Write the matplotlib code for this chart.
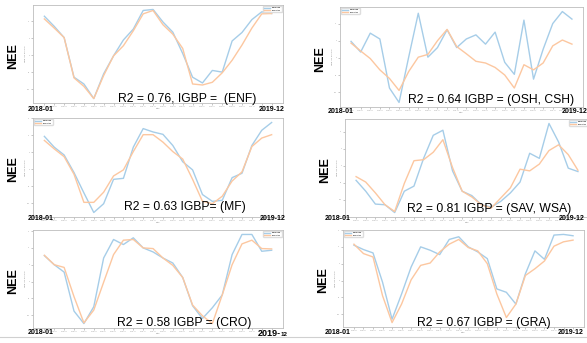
import numpy as np
import matplotlib
matplotlib.use('Agg')
import matplotlib.pyplot as plt

plt.rcParams['font.family'] = ['Liberation Sans', 'DejaVu Sans']

W, H = 587, 343

months = [f'{y}-{m:02d}' for y in (2018, 2019) for m in range(1, 13)]

enf_obs = [11.5, 8.5, 5.2, -6.5, -8.5, -12.8, -5.5, -0.2, 4.5, 7.7, 13.2, 13.5,
           9.8, 6.8, 0.5, -6.5, -8.2, -4.5, -5.0, 4.2, 6.7, 10.5, 12.8, 12.3]
enf_sim = [10.7, 8.0, 5.2, -6.7, -9.2, -12.8, -6.0, -0.2, 2.8, 7.2, 12.2, 13.2,
           9.0, 6.2, 2.0, -8.5, -8.8, -8.0, -5.2, -1.5, 3.0, 8.0, 12.2, 12.3]

osh_obs = [4.8, 1.7, 7.2, 5.5, -8.8, -13.0, 0.2, 13.0, 0.2, 3.0, 8.2, 3.0,
           5.5, 6.7, 4.0, 7.5, -1.3, -4.8, 11.0, -6.2, 2.5, 10.0, 13.5, 11.3]
osh_sim = [4.3, 2.0, -0.2, -3.5, -6.0, -9.5, -4.0, 0.2, 1.0, 5.0, 8.3, 3.3,
           1.2, -1.0, -1.5, -2.8, -5.0, -8.8, -2.0, -3.5, -1.5, 3.5, 5.2, 4.0]

mf_obs = [9.7, 6.5, 4.2, -1.0, -7.0, -12.8, -10.2, -3.0, -2.7, 6.5, 12.0, 11.0,
          10.3, 7.0, 2.2, -0.2, -7.5, -9.5, -9.2, -2.5, -1.2, 7.0, 11.5, 13.8]
mf_sim = [8.5, 6.0, 3.7, -1.5, -9.8, -9.8, -6.8, -2.0, -0.2, 5.2, 10.2, 10.2,
          8.0, 5.2, 3.0, -3.0, -9.5, -10.2, -8.0, -3.5, -0.8, 6.7, 9.2, 10.2]

sav_obs = [-4.3, -7.5, -11.3, -11.5, -13.8, -7.5, -6.0, 2.2, 9.0, 10.5, -1.5, -7.5,
           -8.8, -11.5, -12.2, -10.5, -8.0, -4.8, 3.7, 2.2, 12.5, 7.0, -0.7, -1.7]
sav_sim = [-3.2, -4.8, -8.0, -11.5, -13.5, -5.2, 1.5, 1.8, 4.0, 7.7, -0.5, -7.5,
           -9.2, -11.5, -12.5, -9.5, -6.5, -1.0, -1.5, 0.5, 4.5, 6.2, 3.3, -1.3]

cro_obs = [7.7, 5.0, 2.8, -8.8, -12.5, -7.5, 7.0, 12.5, 11.0, 13.0, 10.0, 8.8,
           7.0, 5.5, 1.2, -7.2, -11.0, -7.8, -4.0, 8.0, 14.0, 14.0, 9.0, 9.3]
cro_sim = [7.8, 5.0, 4.2, -4.5, -12.3, -8.5, -0.2, 8.0, 12.3, 12.5, 10.0, 9.8,
           7.0, 4.8, 1.2, -7.0, -10.2, -12.5, -4.0, 5.0, 11.2, 12.3, 9.8, 9.7]

gra_obs = [10.5, 9.2, 8.2, -0.5, -11.5, -4.0, 4.0, 10.0, 9.0, 7.7, 12.2, 13.0,
           10.0, 8.5, 6.5, -2.5, -3.5, -7.0, 2.0, 8.8, 6.3, 13.5, 13.7, 13.3]
gra_sim = [10.8, 8.0, 7.0, -4.5, -12.5, -7.0, 0.2, 4.5, 5.2, 8.5, 10.8, 12.2,
           9.8, 8.8, 5.0, -4.0, -11.0, -7.0, 1.5, 3.5, 5.8, 10.2, 11.5, 12.0]

r2_labels = ['R2 = 0.76, IGBP =  (ENF)', 'R2 = 0.64 IGBP = (OSH, CSH)',
             'R2 = 0.63 IGBP= (MF)', 'R2 = 0.81 IGBP = (SAV, WSA)',
             'R2 = 0.58 IGBP = (CRO)', 'R2 = 0.67 IGBP = (GRA)']


def fx(x):
    return x / W


def fy(y):
    return 1 - y / H


# (obs, sim, caja en px: izq, arriba, der, abajo, legend, texto R2 (x, y), fechas)
panels = [
    (enf_obs, enf_sim, (33, 5, 283, 103), 'upper right', (187, 99), (41, 272, 110)),
    (osh_obs, osh_sim, (340, 7, 583, 107), 'upper left', (491, 100), (341, 575, 112)),
    (mf_obs, mf_sim, (33, 118, 283, 217), 'upper left', (185, 207), (41, 273, 218)),
    (sav_obs, sav_sim, (345, 119, 589, 217), 'upper right', (489, 209), (338, 572, 219)),
    (cro_obs, cro_sim, (33, 230, 283, 328), 'upper right', (184, 323), (41, None, 332)),
    (gra_obs, gra_sim, (343, 230, 584, 327), 'upper left', (484, 323), (338, 571, 333)),
]

fig = plt.figure(figsize=(W / 100, H / 100), dpi=100)
x = np.arange(len(months))

for i, (obs, sim, box, loc, r2pos, dates) in enumerate(panels):
    l, t, r, b = box
    ax = fig.add_axes([fx(l), fy(b), fx(r - l), (b - t) / H])
    ax.plot(x, obs, color='#a6cde8', lw=1.0, label='Observed')
    ax.plot(x, sim, color='#fcc7a0', lw=1.0, label='Predicted')
    ax.set_xticks(x)
    ax.set_xticklabels(months)
    ax.tick_params(length=1.5, width=0.4, colors='#999999', labelsize=1.3, pad=1)
    ax.set_xlabel('Date', fontsize=1.5, color='#888888', labelpad=0.5)
    ax.set_ylabel('NEE (gC m-2 d-1)', fontsize=1.5, color='#888888', labelpad=0.5)
    for s in ax.spines.values():
        s.set_color('#bdbdbd')
        s.set_linewidth(0.6)
    ax.legend(loc=loc, fontsize=1.5, frameon=True, handlelength=3, borderpad=0.4,
              edgecolor='#dddddd', framealpha=1)

    # etiqueta NEE grande a la izquierda
    fig.text(fx(l - 20), fy((t + b) / 2 + 2), 'NEE', rotation=90, fontsize=9,
             fontweight='bold', ha='center', va='center')
    fig.text(fx(r2pos[0]), fy(r2pos[1]), r2_labels[i], fontsize=8.7,
             ha='center', va='center')
    fig.text(fx(dates[0]), fy(dates[2]), '2018-01', fontsize=5, fontweight='bold',
             ha='center', va='center')
    if dates[1] is not None:
        fig.text(fx(dates[1]), fy(dates[2]), '2019-12', fontsize=5, fontweight='bold',
                 ha='center', va='center')

# la ultima fecha del panel CRO tiene el mes mas chico
fig.text(fx(281), fy(333), '2019-', fontsize=6.5, fontweight='bold', ha='right', va='center')
fig.text(fx(281), fy(334), '12', fontsize=4.5, fontweight='bold', ha='left', va='center')

# linea separadora abajo
fig.add_artist(plt.Line2D([0, 1], [fy(336.5), fy(336.5)], color='#d0d0d0', lw=0.8))

fig.savefig('out.png', dpi=100)
